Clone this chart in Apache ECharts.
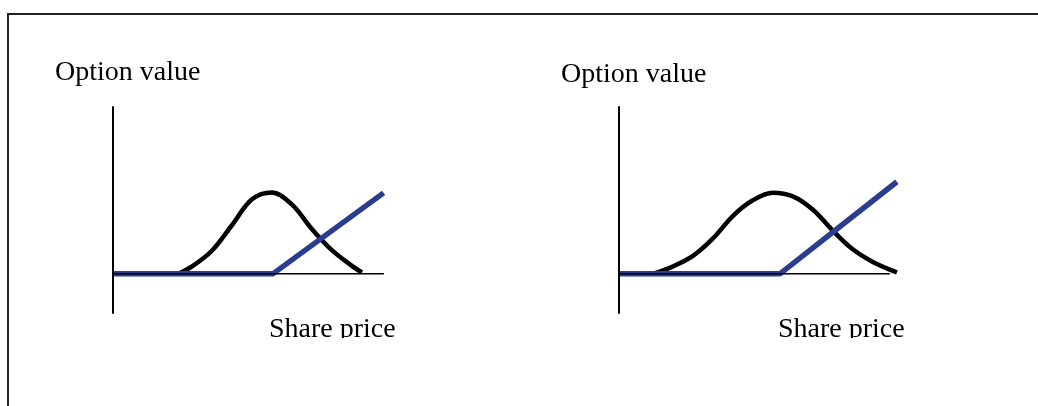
<!DOCTYPE html>
<html>
<head>
<meta charset="utf-8">
<title>Option value vs share price</title>
<script src="https://cdn.jsdelivr.net/npm/echarts@6/dist/echarts.min.js"></script>
<style>
  html, body { margin: 0; padding: 0; background: #fff; }
  #chart { width: 1038px; height: 406px; }
</style>
</head>
<body>
<div id="chart"></div>
<script>
// axis titles
const yTitle = 'Option value'
const xTitle = 'Share price'

// left panel: option value before expiry (black) and payoff at expiry (blue)
const leftCurve = [
  [2.4, 0], [2.92, 0.36], [3.65, 1.12], [4.39, 2.36], [5.13, 3.62], [5.87, 3.95],
  [6.61, 3.36], [7.34, 2.18], [8.08, 1.15], [8.82, 0.39], [9.19, 0.07]
]
const leftPayoff = [[0, 0], [5.9, 0], [9.99, 3.93]]

// right panel
const rightCurve = [
  [1.25, 0], [1.99, 0.36], [2.73, 0.87], [3.47, 1.72], [4.21, 2.82], [4.94, 3.57],
  [5.68, 3.94], [6.42, 3.76], [7.16, 3.11], [7.9, 2.09], [8.63, 1.19], [9.37, 0.58],
  [10.26, 0.07]
]
const rightPayoff = [[0, 0], [5.94, 0], [10.26, 4.47]]

// share price axis (drawn as a thin line, shorter than the curves reach)
const baseline = [[0, 0], [10, 0]]

const curveColor = '#000'
const payoffColor = '#2a3d8f'
const font = '28px "Liberation Serif", "Times New Roman", serif'

const chart = echarts.init(document.getElementById('chart'))

function xAxisFor(gridIndex) {
  return {
    type: 'value', gridIndex, min: 0, max: 10.3,
    axisLine: { show: false },
    axisTick: { show: false },
    axisLabel: { show: false },
    splitLine: { show: false }
  }
}

function yAxisFor(gridIndex) {
  return {
    type: 'value', gridIndex, min: -1.9, max: 8.1, z: 10,
    axisLine: { show: true, lineStyle: { color: '#000', width: 2 } },
    axisTick: { show: false },
    axisLabel: { show: false },
    splitLine: { show: false }
  }
}

function lineSeries(data, idx, color, width, smooth, z) {
  return {
    type: 'line',
    xAxisIndex: idx,
    yAxisIndex: idx,
    data,
    smooth,
    z,
    clip: false,
    showSymbol: false,
    silent: true,
    lineStyle: { color, width, cap: 'butt', join: 'miter' }
  }
}

chart.setOption({
  animation: false,
  backgroundColor: '#fff',
  grid: [
    { left: 113, top: 107, width: 279, height: 206 },
    { left: 619, top: 107, width: 279, height: 206 }
  ],
  xAxis: [xAxisFor(0), xAxisFor(1)],
  yAxis: [yAxisFor(0), yAxisFor(1)],
  series: [
    lineSeries(leftCurve, 0, curveColor, 4.5, 0.35, 2),
    lineSeries(leftPayoff, 0, payoffColor, 5.5, false, 3),
    lineSeries(baseline, 0, '#000', 1.5, false, 4),
    lineSeries(rightCurve, 1, curveColor, 4.5, 0.35, 2),
    lineSeries(rightPayoff, 1, payoffColor, 5.5, false, 3),
    lineSeries(baseline, 1, '#000', 1.5, false, 4)
  ],
  graphic: [
    // frame (only top and left edges fall inside the picture)
    { type: 'rect', shape: { x: 8, y: 14, width: 1200, height: 600 },
      style: { fill: 'none', stroke: '#222', lineWidth: 2 }, silent: true },
    { type: 'text', x: 55, y: 59, style: { text: yTitle, font, fill: '#000', textVerticalAlign: 'top' } },
    { type: 'text', x: 561, y: 61, style: { text: yTitle, font, fill: '#000', textVerticalAlign: 'top' } },
    { type: 'text', x: 269, y: 316, style: { text: xTitle, font, fill: '#000', textVerticalAlign: 'top' } },
    { type: 'text', x: 778, y: 316, style: { text: xTitle, font, fill: '#000', textVerticalAlign: 'top' } },
    // the titles are cut just under the baseline in the original
    { type: 'rect', z: 20, shape: { x: 250, y: 338, width: 680, height: 16 },
      style: { fill: '#fff' }, silent: true }
  ]
})
</script>
</body>
</html>
